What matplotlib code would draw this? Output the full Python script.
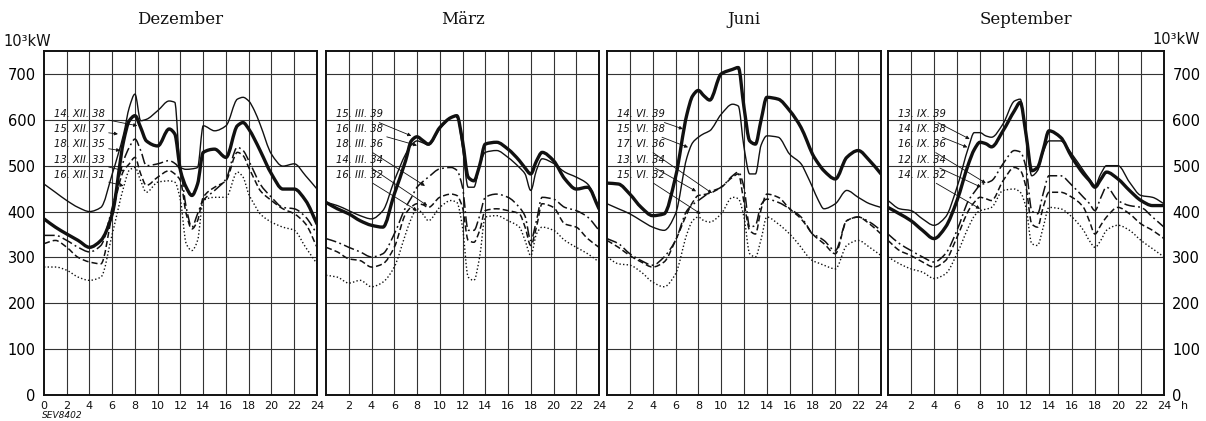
import matplotlib
matplotlib.use("Agg")
import matplotlib.pyplot as plt
from matplotlib.path import Path
from matplotlib.patches import PathPatch
import numpy as np

# ---------------- data ----------------
hours = [0, 1, 2, 3, 4, 5, 6, 7, 7.5, 8, 8.5, 9, 10, 11, 11.5, 12, 12.5, 13, 13.5,
         14, 15, 16, 17, 17.5, 18, 18.5, 19, 20, 21, 22, 23, 24]

months = ["Dezember", "März", "Juni", "September"]

# Dezember
dez_thin = [460, 442, 424, 409, 400, 409, 482, 569, 627, 656, 598, 601, 620, 641, 638, 496, 492, 493, 496,
            587, 576, 587, 645, 649, 641, 620, 590, 525, 499, 504, 478, 449]
dez_thick = [384, 366, 351, 337, 322, 337, 395, 554, 598, 609, 583, 554, 543, 580, 569, 489, 453, 435, 460,
             529, 536, 518, 587, 594, 580, 558, 533, 482, 449, 449, 424, 373]
dez_dashdot = [348, 348, 337, 322, 312, 326, 409, 511, 540, 558, 533, 500, 504, 511, 505, 489, 409, 366, 395,
               424, 446, 471, 540, 533, 511, 485, 460, 431, 409, 406, 388, 351]
dez_dashed = [330, 337, 322, 300, 290, 286, 395, 489, 504, 518, 482, 457, 475, 489, 482, 467, 395, 362, 380,
              431, 453, 467, 529, 522, 496, 470, 446, 424, 406, 395, 373, 322]
dez_dotted = [279, 279, 272, 257, 250, 257, 351, 453, 490, 496, 467, 442, 464, 467, 464, 424, 330, 315, 337,
              424, 431, 431, 486, 475, 438, 415, 395, 377, 366, 359, 322, 286]

# März
mar_thick = [420, 406, 395, 380, 370, 366, 438, 511, 554, 563, 555, 547, 583, 605, 609, 554, 475, 467, 500,
             547, 551, 536, 511, 495, 482, 510, 529, 511, 471, 449, 453, 406]
mar_thin = [420, 413, 402, 391, 384, 402, 467, 525, 545, 554, 550, 545, 580, 605, 609, 540, 453, 453, 500,
            529, 533, 518, 496, 482, 446, 490, 515, 505, 486, 475, 460, 409]
mar_dashdot = [341, 333, 322, 312, 301, 308, 351, 409, 430, 453, 465, 475, 493, 496, 490, 453, 359, 359, 390,
               431, 438, 431, 409, 390, 337, 380, 431, 427, 409, 402, 388, 359]
mar_dashed = [322, 312, 297, 293, 279, 286, 322, 395, 410, 417, 415, 409, 431, 438, 435, 409, 337, 333, 358,
              402, 406, 402, 395, 366, 326, 366, 417, 409, 373, 366, 341, 322]
mar_dotted = [261, 257, 244, 250, 236, 246, 279, 351, 385, 406, 395, 380, 409, 424, 420, 366, 257, 250, 300,
              388, 391, 380, 366, 337, 304, 351, 366, 359, 337, 322, 308, 290]

# Juni
jun_thick = [462, 460, 438, 409, 391, 395, 475, 612, 652, 664, 652, 643, 700, 710, 714, 627, 554, 547, 600,
             649, 645, 620, 583, 555, 525, 505, 489, 471, 518, 533, 511, 482]
jun_thin = [417, 406, 395, 380, 366, 359, 395, 518, 550, 562, 570, 576, 612, 634, 630, 540, 482, 482, 545,
            565, 562, 525, 504, 480, 453, 425, 406, 417, 446, 431, 417, 409]
jun_dashdot = [341, 330, 308, 293, 283, 301, 337, 402, 415, 424, 433, 442, 453, 478, 486, 453, 366, 370, 415,
               427, 420, 406, 388, 370, 351, 345, 337, 315, 380, 388, 377, 359]
jun_dashed = [337, 322, 304, 290, 279, 290, 337, 395, 420, 435, 437, 440, 453, 475, 482, 420, 359, 351, 405,
              438, 431, 406, 384, 368, 351, 340, 330, 308, 380, 388, 373, 351]
jun_dotted = [301, 286, 283, 268, 246, 236, 264, 351, 380, 388, 380, 377, 395, 431, 428, 388, 308, 301, 340,
              388, 373, 351, 322, 305, 293, 288, 283, 275, 326, 337, 322, 304]

# September
sep_thick = [409, 395, 380, 359, 341, 366, 424, 504, 535, 551, 548, 541, 576, 620, 638, 569, 489, 496, 535,
             576, 562, 518, 482, 468, 453, 470, 486, 471, 446, 424, 413, 413]
sep_thin = [424, 406, 402, 384, 370, 388, 453, 540, 572, 572, 565, 562, 591, 641, 645, 562, 478, 489, 530,
            554, 554, 525, 489, 472, 457, 482, 500, 500, 464, 435, 431, 417]
sep_dashdot = [351, 330, 315, 301, 290, 308, 359, 424, 442, 457, 462, 467, 504, 533, 530, 496, 402, 395, 440,
               478, 478, 457, 431, 418, 402, 430, 453, 424, 413, 409, 388, 366]
sep_dashed = [337, 315, 304, 290, 279, 293, 344, 402, 420, 431, 428, 424, 467, 496, 490, 453, 373, 366, 410,
              442, 442, 431, 409, 380, 351, 370, 388, 409, 395, 373, 359, 341]
sep_dotted = [301, 286, 275, 268, 254, 264, 308, 366, 390, 402, 405, 409, 446, 449, 442, 409, 330, 326, 366,
              409, 406, 388, 359, 337, 322, 337, 359, 370, 359, 337, 319, 301]

dez_labels = ["14. XII. 38", "15. XII. 37", "18. XII. 35", "13. XII. 33", "16. XII. 31"]
mar_labels = ["15. III. 39", "16. III. 38", "18. III. 36", "14. III. 34", "16. III. 32"]
jun_labels = ["14. VI. 39", "15. VI. 38", "17. VI. 36", "13. VI. 34", "15. VI. 32"]
sep_labels = ["13. IX. 39", "14. IX. 38", "16. IX. 36", "12. IX. 34", "14. IX. 32"]

# arrow targets (hour, 10^3 kW) for each label
dez_arrow_x = [8.2, 6.5, 6.7, 7.0, 7.0]
dez_arrow_y = [587, 569, 533, 489, 456]
mar_arrow_x = [7.5, 8.0, 8.7, 8.9, 8.0]
mar_arrow_y = [565, 544, 456, 413, 402]
jun_arrow_x = [6.65, 7.1, 9.2, 7.8, 8.2]
jun_arrow_y = [580, 540, 440, 444, 395]
sep_arrow_x = [7.1, 6.9, 8.5, 8.1, 8.0]
sep_arrow_y = [558, 540, 462, 453, 406]

yticks = [0, 100, 200, 300, 400, 500, 600, 700]
xticks = list(range(0, 25, 2))


def smooth_path(xs, ys):
    """Monotone cubic (Fritsch-Carlson) Bezier path through the given points."""
    x = np.asarray(xs, float)
    y = np.asarray(ys, float)
    h = np.diff(x)
    d = np.diff(y) / h
    n = len(x)
    m = np.zeros(n)
    m[0], m[-1] = d[0], d[-1]
    for k in range(1, n - 1):
        if d[k - 1] * d[k] <= 0:
            m[k] = 0.0
        else:
            w1 = 2 * h[k] + h[k - 1]
            w2 = h[k] + 2 * h[k - 1]
            m[k] = (w1 + w2) / (w1 / d[k - 1] + w2 / d[k])
    verts = [(x[0], y[0])]
    codes = [Path.MOVETO]
    for k in range(n - 1):
        verts += [(x[k] + h[k] / 3, y[k] + m[k] * h[k] / 3),
                  (x[k + 1] - h[k] / 3, y[k + 1] - m[k + 1] * h[k] / 3),
                  (x[k + 1], y[k + 1])]
        codes += [Path.CURVE4] * 3
    return Path(verts, codes)


# ---------------- figure ----------------
W, H = 1206, 421
fig = plt.figure(figsize=(W / 100, H / 100), dpi=100)
fig.patch.set_facecolor("white")

lefts = [44, 326, 607, 888]
widths = [273, 273, 274, 276]
top_px, bot_px = 51, 395

panel_series = [
    [dez_thin, dez_thick, dez_dashdot, dez_dashed, dez_dotted],
    [mar_thin, mar_thick, mar_dashdot, mar_dashed, mar_dotted],
    [jun_thin, jun_thick, jun_dashdot, jun_dashed, jun_dotted],
    [sep_thin, sep_thick, sep_dashdot, sep_dashed, sep_dotted],
]
panel_labels = [dez_labels, mar_labels, jun_labels, sep_labels]
panel_ax = [dez_arrow_x, mar_arrow_x, jun_arrow_x, sep_arrow_x]
panel_ay = [dez_arrow_y, mar_arrow_y, jun_arrow_y, sep_arrow_y]

styles = [
    dict(lw=1.0, ls="-"),
    dict(lw=2.4, ls="-"),
    dict(lw=1.1, ls=(0, (7, 2.2, 1.2, 2.2))),
    dict(lw=1.1, ls=(0, (4, 2))),
    dict(lw=1.0, ls=(0, (1, 1.6))),
]

label_y = [612, 580, 547, 513, 480]
label_x = 0.85

for i in range(4):
    ax = fig.add_axes([lefts[i] / W, 1 - bot_px / H, widths[i] / W, (bot_px - top_px) / H])
    ax.set_xlim(0, 24)
    ax.set_ylim(0, 750)
    for x in xticks[1:-1]:
        ax.axvline(x, color="#333333", lw=0.8, zorder=1)
    for y in yticks[1:]:
        ax.axhline(y, color="#333333", lw=0.8, zorder=1)
    for s in ax.spines.values():
        s.set_linewidth(1.4)
        s.set_color("#111111")

    for ser, st in zip(panel_series[i], styles):
        patch = PathPatch(smooth_path(hours, ser), facecolor="none", edgecolor="#111111",
                          linewidth=st["lw"], linestyle=st["ls"], joinstyle="round",
                          capstyle="round" if st["ls"] == "-" else "butt", zorder=3)
        ax.add_patch(patch)

    for k, lab in enumerate(panel_labels[i]):
        ax.annotate(lab, xy=(panel_ax[i][k], panel_ay[i][k]), xytext=(label_x, label_y[k]),
                    fontsize=7.2, style="italic", family="DejaVu Sans", va="center", ha="left",
                    color="#111111",
                    arrowprops=dict(arrowstyle="-|>", lw=0.6, color="#111111",
                                    mutation_scale=5, shrinkA=1, shrinkB=0),
                    zorder=5)

    ax.set_xticks(xticks)
    if i == 0:
        ax.set_xticklabels([str(t) for t in xticks])
    else:
        ax.set_xticklabels([""] + [str(t) for t in xticks[1:]])
    ax.tick_params(axis="x", length=0, pad=4, labelsize=8, colors="#111111")
    ax.set_yticks(yticks)
    if i == 0:
        ax.tick_params(axis="y", length=0, pad=6, labelsize=10.5, left=True, labelleft=True)
    elif i == 3:
        ax.yaxis.tick_right()
        ax.tick_params(axis="y", length=0, pad=6, labelsize=10.5, right=True, labelright=True,
                       left=False, labelleft=False)
    else:
        ax.tick_params(axis="y", length=0, left=False, labelleft=False)

    cx = (lefts[i] + widths[i] / 2) / W
    fig.text(cx, 1 - 20 / H, months[i], ha="center", va="center", fontsize=12,
             family="DejaVu Serif", color="#111111")

fig.text(3 / W, 1 - 42 / H, "10³kW", ha="left", va="center", fontsize=10.5, color="#111111")
fig.text(1200 / W, 1 - 40 / H, "10³kW", ha="right", va="center", fontsize=10.5, color="#111111")
fig.text(1181 / W, 1 - 406 / H, "h", ha="left", va="center", fontsize=8, color="#111111")
fig.text(42 / W, 1 - 416 / H, "SEV8402", ha="left", va="center", fontsize=6.5, style="italic",
         color="#111111")

fig.savefig("out.png", dpi=100, facecolor="white")
